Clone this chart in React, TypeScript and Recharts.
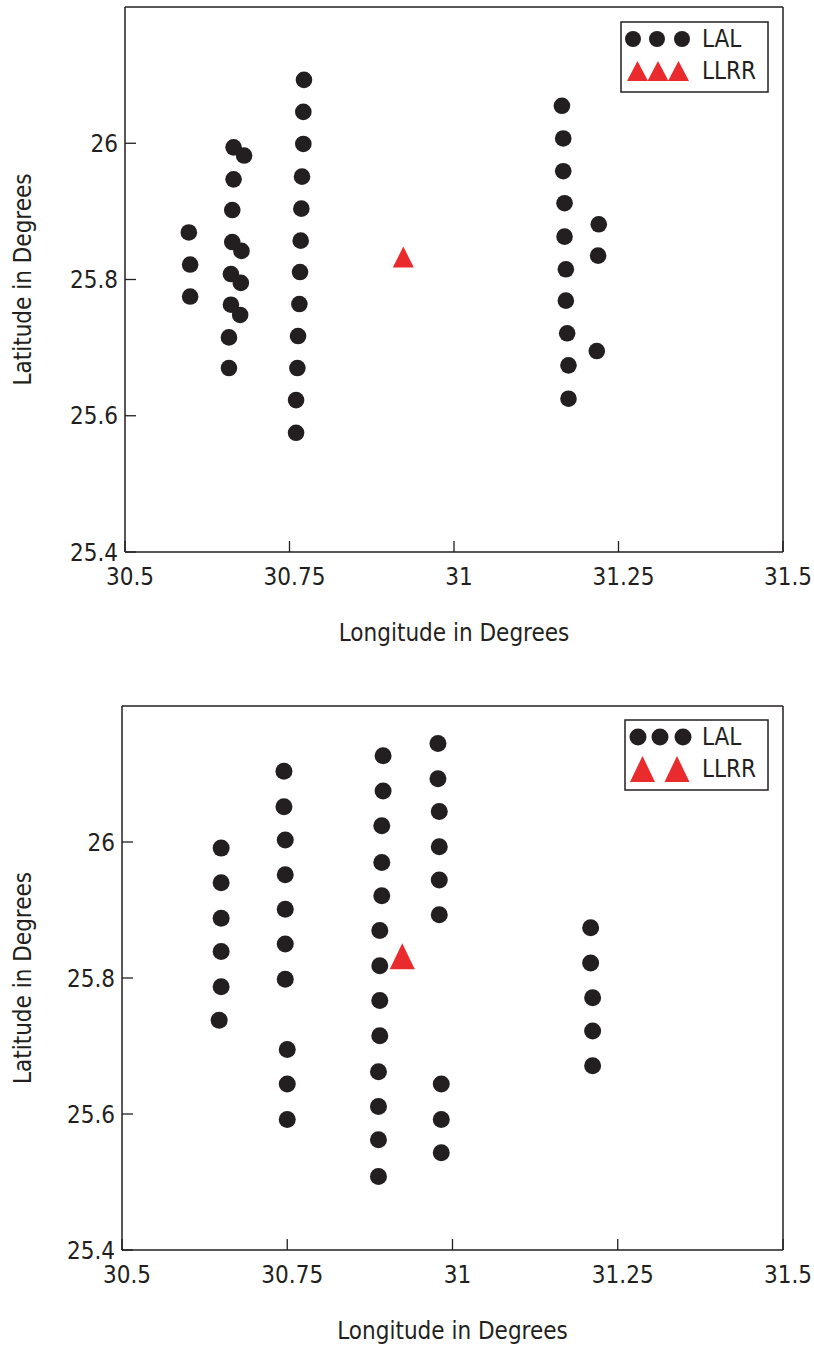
import { ScatterChart, Scatter, XAxis, YAxis } from "recharts";

const INK = "#231f20";
const RED = "#e92b2d";
const FONT = "'DejaVu Sans Condensed', 'DejaVu Sans', sans-serif";
const FS = 24;

const lonTicks = [30.5, 30.75, 31, 31.25, 31.5];
const latTicks = [25.4, 25.6, 25.8, 26];

// upper map — LAL stations as [longitude, latitude]
const topLalWest: [number, number][] = [
  [30.597, 25.869], [30.599, 25.822], [30.599, 25.775],
  [30.665, 25.994], [30.681, 25.982], [30.665, 25.947], [30.663, 25.902],
  [30.663, 25.855], [30.677, 25.842], [30.661, 25.808], [30.676, 25.795],
  [30.661, 25.763], [30.675, 25.748], [30.658, 25.715], [30.658, 25.67],
];
const topLalMid: [number, number][] = [
  [30.772, 26.093], [30.771, 26.046], [30.771, 25.999], [30.769, 25.951],
  [30.768, 25.904], [30.767, 25.857], [30.766, 25.811], [30.765, 25.764],
  [30.763, 25.717], [30.762, 25.67], [30.76, 25.623], [30.76, 25.575],
];
const topLalEast: [number, number][] = [
  [31.164, 26.055], [31.166, 26.007], [31.166, 25.959], [31.168, 25.912],
  [31.168, 25.863], [31.17, 25.815], [31.17, 25.769], [31.172, 25.721],
  [31.174, 25.674], [31.174, 25.625],
  [31.22, 25.881], [31.219, 25.835], [31.217, 25.695],
];
const topLlrr: [number, number][] = [[30.923, 25.833]];

// lower map
const bottomLalWest: [number, number][] = [
  [30.65, 25.991], [30.65, 25.94], [30.65, 25.888], [30.65, 25.839], [30.65, 25.787], [30.647, 25.738],
  [30.745, 26.104], [30.745, 26.052], [30.747, 26.003], [30.747, 25.952], [30.747, 25.901],
  [30.747, 25.85], [30.747, 25.798], [30.75, 25.695], [30.75, 25.644], [30.75, 25.592],
];
const bottomLalMid: [number, number][] = [
  [30.895, 26.127], [30.895, 26.075], [30.893, 26.024], [30.893, 25.97], [30.893, 25.921],
  [30.89, 25.87], [30.89, 25.818], [30.89, 25.767], [30.89, 25.715], [30.888, 25.662],
  [30.888, 25.611], [30.888, 25.562], [30.888, 25.508],
  [30.978, 26.145], [30.978, 26.093], [30.98, 26.045], [30.98, 25.993], [30.98, 25.944],
  [30.98, 25.893], [30.983, 25.644], [30.983, 25.592], [30.983, 25.543],
];
const bottomLalEast: [number, number][] = [
  [31.209, 25.874], [31.209, 25.822], [31.212, 25.771], [31.212, 25.722], [31.212, 25.671],
];
const bottomLlrr: [number, number][] = [[30.924, 25.832]];

const toRows = (pts: [number, number][]) => pts.map(([lon, lat]) => ({ lon, lat }));

const dotShape = (r: number) => (p: any) => (
  <circle cx={p.cx} cy={p.cy} r={r} fill={INK} />
);

const triShape = (w: number, h: number) => (p: any) => (
  <polygon
    points={`${p.cx},${p.cy - h / 2} ${p.cx + w / 2},${p.cy + h / 2} ${p.cx - w / 2},${p.cy + h / 2}`}
    fill={RED}
  />
);

type Box = { left: number; top: number; right: number; bottom: number };

function LegendBox({ box, dots, tris, triW, triH, r, textX, y1, y2 }: {
  box: Box; dots: number[]; tris: number[]; triW: number; triH: number; r: number;
  textX: number; y1: number; y2: number;
}) {
  return (
    <svg
      width={box.right - box.left + 4}
      height={box.bottom - box.top + 4}
      style={{ position: "absolute", left: box.left - 2, top: box.top - 2 }}
    >
      <g transform={`translate(${2 - box.left},${2 - box.top})`}>
        <rect x={box.left} y={box.top} width={box.right - box.left} height={box.bottom - box.top}
          fill="#fff" stroke={INK} strokeWidth={1.5} />
        {dots.map((x) => <circle key={x} cx={x} cy={y1} r={r} fill={INK} />)}
        {tris.map((x) => (
          <polygon key={x}
            points={`${x},${y2 - triH / 2} ${x + triW / 2},${y2 + triH / 2} ${x - triW / 2},${y2 + triH / 2}`}
            fill={RED} />
        ))}
        <text x={textX} y={y1} dominantBaseline="central" fontSize={FS} fontFamily={FONT} fill={INK}>LAL</text>
        <text x={textX} y={y2} dominantBaseline="central" fontSize={FS} fontFamily={FONT} fill={INK}>LLRR</text>
      </g>
    </svg>
  );
}

function LocationMap({ top, height, plot, lal, llrr, r, triW, triH, legend }: {
  top: number; height: number; plot: Box;
  lal: { lon: number; lat: number }[]; llrr: { lon: number; lat: number }[];
  r: number; triW: number; triH: number; legend: any;
}) {
  const tickFont = { fill: INK, fontSize: FS, fontFamily: FONT };
  const axis = { stroke: INK, strokeWidth: 1.5 };
  const tl = { stroke: INK, strokeWidth: 1.3 };
  const xH = height - (plot.bottom - top);
  return (
    <div style={{ position: "absolute", left: 0, top, width: 814, height }}>
      <ScatterChart
        width={814}
        height={height}
        margin={{ top: plot.top - top - 1, right: 814 - plot.right - 1, bottom: 0, left: 0 }}
      >
        <XAxis xAxisId="b" type="number" dataKey="lon" domain={[30.5, 31.5]} ticks={lonTicks}
          height={xH} axisLine={axis} tickLine={tl} tickSize={-11} tickMargin={27}
          tick={{ ...tickFont, dx: 5 }}
          label={{ value: "Longitude in Degrees", position: "insideBottom", offset: xH - 89, ...tickFont }} />
        <XAxis xAxisId="t" orientation="top" type="number" dataKey="lon" domain={[30.5, 31.5]}
          ticks={lonTicks} height={1} axisLine={axis} tickLine={tl} tickSize={-11} tick={false} />
        <YAxis yAxisId="l" type="number" dataKey="lat" domain={[25.4, 26.2]} ticks={latTicks}
          width={plot.left} axisLine={axis} tickLine={tl} tickSize={-11} tickMargin={18}
          tick={tickFont}
          label={{ value: "Latitude in Degrees", angle: -90, position: "insideLeft", offset: 22,
            style: { textAnchor: "middle" }, ...tickFont }} />
        <YAxis yAxisId="r" orientation="right" type="number" dataKey="lat" domain={[25.4, 26.2]}
          ticks={latTicks} width={1} axisLine={axis} tickLine={tl} tickSize={-11} tick={false} />
        <Scatter xAxisId="b" yAxisId="l" name="LAL" data={lal} shape={dotShape(r)} isAnimationActive={false} />
        <Scatter xAxisId="t" yAxisId="r" name="LLRR" data={llrr} shape={triShape(triW, triH)} isAnimationActive={false} />
      </ScatterChart>
      <div style={{ position: "absolute", left: 0, top: -top }}>
        <LegendBox {...legend} />
      </div>
    </div>
  );
}

export default function App() {
  return (
    <div style={{ position: "absolute", left: 0, top: 0, width: 814, height: 1346, background: "#fff" }}>
      <LocationMap
        top={0}
        height={660}
        plot={{ left: 125, top: 7, right: 783, bottom: 552 }}
        lal={toRows([...topLalWest, ...topLalMid, ...topLalEast])}
        llrr={toRows(topLlrr)}
        r={8.3}
        triW={21}
        triH={21}
        legend={{
          box: { left: 621, top: 22, right: 768, bottom: 92 },
          dots: [633, 657, 682], tris: [637.5, 658, 678.5], triW: 21, triH: 20, r: 8,
          textX: 702, y1: 39, y2: 71,
        }}
      />
      <LocationMap
        top={690}
        height={656}
        plot={{ left: 122, top: 706, right: 783, bottom: 1250 }}
        lal={toRows([...bottomLalWest, ...bottomLalMid, ...bottomLalEast])}
        llrr={toRows(bottomLlrr)}
        r={8.5}
        triW={25}
        triH={26}
        legend={{
          box: { left: 625, top: 720, right: 768, bottom: 790 },
          dots: [638, 660, 683], tris: [642.5, 677], triW: 25, triH: 26, r: 8.5,
          textX: 702, y1: 737, y2: 769,
        }}
      />
    </div>
  );
}
